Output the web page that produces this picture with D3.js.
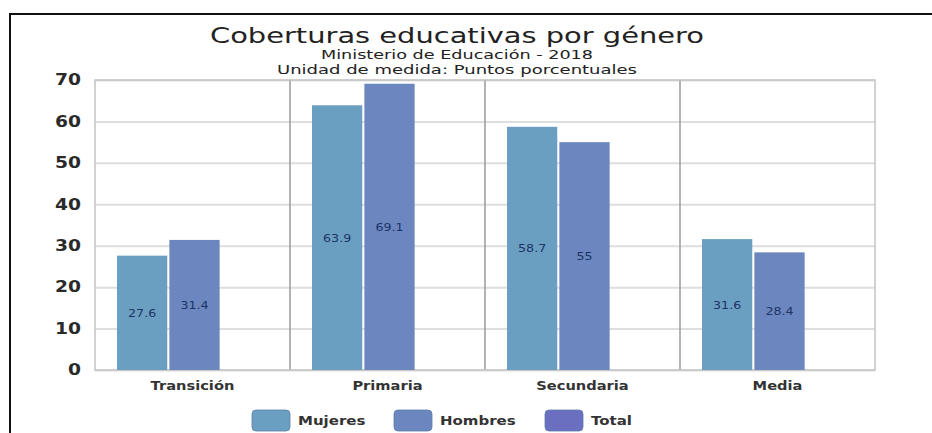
<!DOCTYPE html>
<html>
<head>
<meta charset="utf-8">
<script src="https://cdn.jsdelivr.net/npm/d3@7"></script>
<style>
	body { margin:0; background:#fff; }
	svg { display:block; font-family:"DejaVu Sans", sans-serif; }
</style>
</head>
<body>
<script>
// data
var categories = ['Transición','Primaria','Secundaria','Media'];
var seriesNames = ['Mujeres','Hombres','Total'];
var mujeres = [27.6, 63.9, 58.7, 31.6];
var hombres = [31.4, 69.1, 55, 28.4];
var total = [null, null, null, null];
var yTicks = [0,10,20,30,40,50,60,70];
var colors = ['#6b9fc2','#6c87bf','#6b6fc0'];

var W = 932, H = 433;
// plot box (window.top is read only, so no "top" name here)
var pL = 95, pR = 875, pT = 80, pB = 370;

// stretch text a bit wider, the source picture is wide
widen = function(sel,k){
	sel.each(function(){
		var w = this.getComputedTextLength();
		d3.select(this).attr('textLength',w*k).attr('lengthAdjust','spacingAndGlyphs');
	});
};

main = function(){
	var svg = d3.select('body').append('svg')
		.attr('width',W)
		.attr('height',H);

	// outer frame
	svg.append('path')
		.attr('d','M10,'+H+'V14H'+W)
		.attr('fill','none')
		.attr('stroke','#111')
		.attr('stroke-width',2);

	// titles
	var titles = [
		{t:'Coberturas educativas por género', y:43, s:21, w:494},
		{t:'Ministerio de Educación - 2018', y:59, s:12, w:272},
		{t:'Unidad de medida: Puntos porcentuales', y:74, s:12, w:360}
	];
	svg.selectAll('.title').data(titles).enter().append('text')
		.attr('class','title')
		.attr('x',457)
		.attr('y',function(d){ return d.y; })
		.attr('text-anchor','middle')
		.attr('font-size',function(d){ return d.s; })
		.attr('textLength',function(d){ return d.w; })
		.attr('lengthAdjust','spacingAndGlyphs')
		.attr('fill','#222')
		.text(function(d){ return d.t; });

	var y = d3.scaleLinear().domain([0,70]).range([pB,pT]);
	var x0 = d3.scaleBand().domain(categories).range([pL,pR]);
	var x1 = d3.scaleBand().domain(seriesNames).range([22,177]).paddingInner(0.04);

	// gridlines
	svg.append('g')
		.attr('transform','translate('+pL+',0)')
		.call(d3.axisLeft(y).tickValues(yTicks).tickSize(-(pR-pL)).tickFormat(''))
		.call(function(g){
			g.select('.domain').remove();
			g.selectAll('line').attr('stroke','#dedede').attr('stroke-width',2);
		});

	// group dividers + plot border
	svg.append('g').selectAll('line').data(categories.slice(1)).enter().append('line')
		.attr('x1',function(d){ return x0(d); })
		.attr('x2',function(d){ return x0(d); })
		.attr('y1',pT).attr('y2',pB)
		.attr('stroke','#9a9a9a').attr('stroke-width',1.5);
	svg.append('rect')
		.attr('x',pL).attr('y',pT)
		.attr('width',pR-pL).attr('height',pB-pT)
		.attr('fill','none').attr('stroke','#c4c4c4').attr('stroke-width',1.5);

	// y labels
	svg.append('g')
		.attr('transform','translate(81,0)')
		.call(d3.axisLeft(y).tickValues(yTicks).tickSize(0).tickPadding(0))
		.call(function(g){
			g.select('.domain').remove();
			g.selectAll('text')
				.attr('font-family','DejaVu Sans, sans-serif')
				.attr('font-size',15)
				.attr('font-weight','bold')
				.attr('fill','#2a2a2a')
				.attr('textLength',function(d){ return String(d).length * 13; })
				.attr('lengthAdjust','spacingAndGlyphs');
		});

	// bars
	var data = [mujeres, hombres, total];
	var rows = categories.map(function(c,i){
		return seriesNames.map(function(s,j){ return {cat:c, s:s, v:data[j][i], col:colors[j]}; })
			.filter(function(d){ return d.v != null; });
	});
	var grp = svg.append('g').selectAll('g').data(rows).enter().append('g')
		.attr('transform',function(d,i){ return 'translate('+x0(categories[i])+',0)'; });
	grp.selectAll('rect').data(function(d){ return d; }).enter().append('rect')
		.attr('x',function(d){ return x1(d.s); })
		.attr('y',function(d){ return y(d.v); })
		.attr('width',x1.bandwidth())
		.attr('height',function(d){ return y(0) - y(d.v); })
		.attr('fill',function(d){ return d.col; });
	grp.selectAll('text').data(function(d){ return d; }).enter().append('text')
		.attr('x',function(d){ return x1(d.s) + x1.bandwidth()/2; })
		.attr('y',function(d){ return (y(d.v) + y(0))/2 + 4; })
		.attr('text-anchor','middle')
		.attr('font-size',11)
		.attr('fill','#1d3466')
		.text(function(d){ return d.v; })
		.call(widen,1.15);

	// category labels
	svg.append('g').selectAll('text').data(categories).enter().append('text')
		.attr('x',function(d){ return x0(d) + x0.bandwidth()/2; })
		.attr('y',390)
		.attr('text-anchor','middle')
		.attr('font-size',12.5)
		.attr('font-weight','bold')
		.attr('fill','#333')
		.text(function(d){ return d; })
		.call(widen,1.17);

	// legend
	var legX = [252, 394, 545];
	var leg = svg.append('g').selectAll('g').data(seriesNames).enter().append('g')
		.attr('transform',function(d,i){ return 'translate('+legX[i]+',410)'; });
	leg.append('rect')
		.attr('width',38).attr('height',21).attr('rx',4)
		.attr('fill',function(d,i){ return colors[i]; })
		.attr('stroke','#5a7fa8').attr('stroke-width',0.8);
	leg.append('text')
		.attr('x',46).attr('y',15)
		.attr('font-size',12.5)
		.attr('font-weight','bold')
		.attr('fill','#333')
		.text(function(d){ return d; })
		.call(widen,1.2);
};

main();
</script>
</body>
</html>
